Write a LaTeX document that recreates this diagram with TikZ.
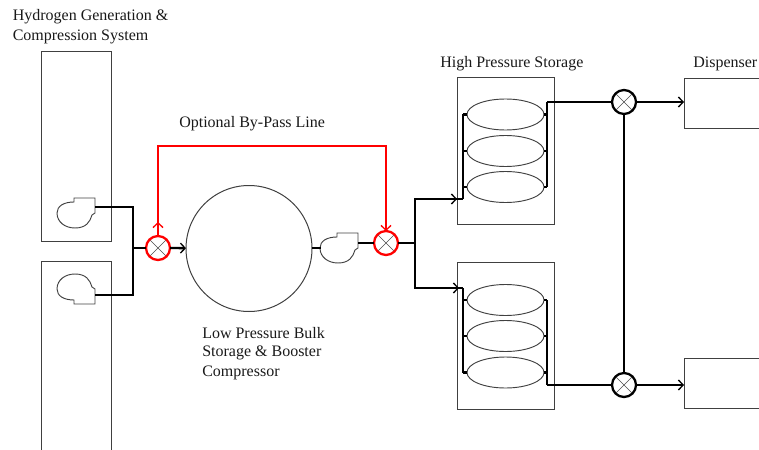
\documentclass[tikz,border=0pt]{standalone}
\usepackage{fontspec}
\setmainfont{Liberation Serif}
\usetikzlibrary{arrows.meta}
\usetikzlibrary{shapes.geometric}
\tikzset{
    sized/.style 2 args={minimum width=#1*0.75pt, minimum height=#2*0.75pt, inner sep=0pt, outer sep=0pt},
    box/.style={draw=black!75, line width=0.75pt, rectangle},
    tank/.style={draw=black!75, line width=0.7pt, ellipse, sized={77}{31}},
    pipe/.style={line width=1.7pt, color=black},
    bypass/.style={line width=1.6pt, color=red},
    tip/.style={-{Straight Barb[length=3.5pt,width=7.5pt,line width=1pt]}},
    valve/.style={circle, draw, line width=1.7pt, sized={24}{24},
        path picture={\draw[line width=0.5pt, color=black!70]
            (path picture bounding box.north west) -- (path picture bounding box.south east)
            (path picture bounding box.north east) -- (path picture bounding box.south west);}},
    label/.style={anchor=west, inner sep=0pt, yshift=-1.25pt, font=\fontsize{12pt}{14pt}\selectfont, text=black!90},
    compressor/.pic={
        \draw[line width=0.7pt, color=black!75] (0,-8) -- (-21,-8) -- (-21,-4) .. controls (-31,-4) and (-38,0) .. (-38,7)
            .. controls (-38,16) and (-30,22) .. (-20,22) .. controls (-9,22) and (-5,16) .. (-3,9) -- (0,7) -- cycle;
    }
}
\begin{document}
\begin{tikzpicture}[x=0.75pt,y=-0.75pt]
        \clip (0,0) rectangle (759,449);

        % generation boxes
        \node[box, sized={70}{189}] (gen1) at (76,146.5) {};
        \node[box, sized={70}{230}] (gen2) at (76,376) {};
        \pic at (95,206) {compressor};
        \pic[yscale=-1] at (95,296) {compressor};

        % bulk storage
        \node[circle, draw=black!75, line width=0.75pt, sized={126}{126}] (bulk) at (249,248.5) {};
        \pic at (358,241) {compressor};

        % valves
        \node[valve, draw=red] (v1) at (158,248) {};
        \node[valve, draw=red] (v2) at (386,243) {};
        \node[valve] (v3) at (624,102) {};
        \node[valve] (v4) at (624,385) {};

        % high pressure storage
        \node[box, sized={97}{146}] (store1) at (505.5,151) {};
        \node[tank] (t1a) at (505.5,114.5) {};
        \node[tank] (t1b) at (505.5,151) {};
        \node[tank] (t1c) at (505.5,187) {};

        \node[box, sized={97}{147}] (store2) at (505.5,335.5) {};
        \node[tank] (t2a) at (505.5,300) {};
        \node[tank] (t2b) at (505.5,336) {};
        \node[tank] (t2c) at (505.5,372.5) {};

        % dispensers
        \node[box, sized={150}{50}, anchor=west] (disp1) at (684,104) {};
        \node[box, sized={150}{50}, anchor=west] (disp2) at (684,383) {};

        \coordinate (c1out) at (95,207);
        \coordinate (c2out) at (95,295);
        \coordinate (join1) at (133,248);
        \coordinate (c3in) at (321,248);
        \coordinate (c3out) at (358,243);
        \coordinate (split) at (415,243);
        \coordinate (m1) at (463,199);
        \coordinate (m2) at (463,288);
        \coordinate (n1) at (547,102);
        \coordinate (n2) at (547,385);

        % inlet
        \draw[pipe] (c1out) -| (join1);
        \draw[pipe] (c2out) -| (join1);
        \draw[pipe] (join1) -- (v1);
        \draw[pipe, tip] (v1) -- (bulk);

        % booster
        \draw[pipe] (bulk.east |- c3in) -- (c3in);
        \draw[pipe] (c3out) -- (v2);
        \draw[pipe] (v2) -- (split);
        \draw[pipe, tip] (split) |- ([xshift=-6*0.75pt]m1);
        \draw[pipe, tip] (split) |- ([xshift=-4*0.75pt]m2);
        \draw[pipe] ([xshift=-8*0.75pt]m1) -- (m1);
        \draw[pipe] ([xshift=-6*0.75pt]m2) -- (m2);

        % manifolds
        \draw[pipe] (m1) -- (m1 |- t1a.west);
        \draw[pipe] (m2) -- (m2 |- t2c.west);
        \draw[pipe] (n1) -- (n1 |- t1c.east);
        \draw[pipe] (n2) -- (n2 |- t2a.east);
        \foreach \t in {t1a,t1b,t1c} {
            \draw[pipe] (\t.west) -- (\t.west -| m1);
            \draw[pipe] (\t.east) -- (\t.east -| n1);
        }
        \foreach \t in {t2a,t2b,t2c} {
            \draw[pipe] (\t.west) -- (\t.west -| m2);
            \draw[pipe] (\t.east) -- (\t.east -| n2);
        }

        % to the dispensers
        \draw[pipe] (n1) -- (v3);
        \draw[pipe] (n2) -- (v4);
        \draw[pipe, tip] (v3) -- (v3 -| disp1.west);
        \draw[pipe, tip] (v4) -- (v4 -| disp2.west);
        \draw[pipe] (v3) -- (v4);

        % by-pass
        \coordinate (by1) at (158,146);
        \coordinate (by2) at (386,146);
        \coordinate (byup) at (158,222);
        \draw[bypass, tip] (v1) -- (byup);
        \draw[bypass, tip] (v1) -- (by1) -- (by2) -- (v2);

        \node[label] (hgen1) at (12.5,15) {Hydrogen Generation \&};
        \node[label] (hgen2) at (12.5,35) {Compression System};
        \node[label] (lbl) at (179,122) {Optional By-Pass Line};
        \node[label] (lhp) at (440,62) {High Pressure Storage};
        \node[label] (ldisp) at (693,62) {Dispenser};
        \node[label] (llp1) at (202,331) {Low Pressure Bulk};
        \node[label] (llp2) at (202,351) {Storage \& Booster};
        \node[label] (llp3) at (202,371) {Compressor};
    \end{tikzpicture}
\end{document}
